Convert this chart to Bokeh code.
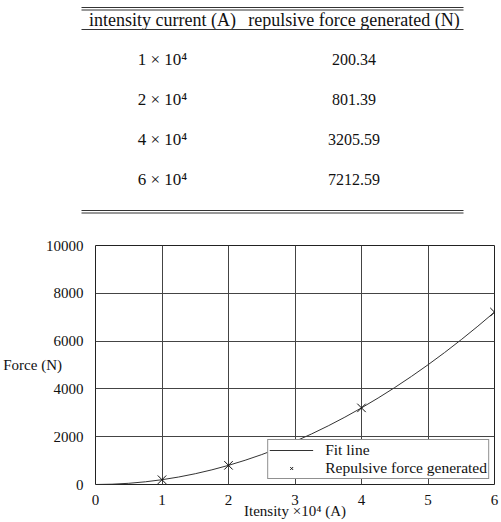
from bokeh.plotting import figure
from bokeh.layouts import column
from bokeh.models import Range1d, FixedTicker, Legend, LegendItem
from bokeh.core.properties import value
from bokeh.embed import file_html
from bokeh.resources import INLINE

# ---- data ----
currents = [1, 2, 4, 6]                     # x 10^4 A
forces = [200.34, 801.39, 3205.59, 7212.59]  # N
fit_x = [0, 0.25, 0.5, 0.75, 1, 1.25, 1.5, 1.75, 2, 2.25, 2.5, 2.75, 3,
         3.25, 3.5, 3.75, 4, 4.25, 4.5, 4.75, 5, 5.25, 5.5, 5.75, 6]
fit_y = [0, 12.5, 50.1, 112.7, 200.3, 313.0, 450.8, 613.6, 801.4, 1014.3,
         1252.2, 1515.2, 1803.2, 2116.3, 2454.3, 2817.5, 3205.6, 3618.9,
         4057.2, 4520.5, 5008.9, 5522.3, 6060.8, 6624.4, 7212.6]
header = ["intensity current (A)", "repulsive force generated (N)"]
x_ticks = [0, 1, 2, 3, 4, 5, 6]
y_ticks = [0, 2000, 4000, 6000, 8000, 10000]

FONT = "Liberation Serif"
FS = "15px"

# ---- table figure ----
t = figure(width=501, height=225, x_range=Range1d(0, 501), y_range=Range1d(225, 0),
           output_backend="svg", toolbar_location=None,
           min_border=0, min_border_left=0, min_border_right=0,
           min_border_top=0, min_border_bottom=0)
t.axis.visible = False
t.grid.visible = False
t.outline_line_color = None

# ---- chart figure ----
p = figure(width=501, height=297, x_range=Range1d(0, 6), y_range=Range1d(0, 10000),
           output_backend="svg", toolbar_location=None,
           min_border_left=92, min_border_right=7, min_border_top=20, min_border_bottom=38)

try:
    t.frame_align = False
    p.frame_align = False
except AttributeError:
    t.x_range = Range1d(92, 494)
    t.min_border_left = 92
    t.min_border_right = 7

col_x = [162, 353.5]
t.text(x=col_x, y=[19, 19], text=header, text_font=value(FONT), text_font_size=value("18px"),
       text_align="center", text_baseline="middle", text_color="#111")
row_y = [59, 99, 139, 179]
left_col = ["%d × 10⁴" % c for c in currents]
right_col = ["%.2f" % f for f in forces]
t.text(x=[col_x[0]] * 4, y=row_y, text=left_col, text_font=value(FONT), text_font_size=value("17px"),
       text_align="center", text_baseline="middle", text_color="#111")
t.text(x=[col_x[1]] * 4, y=row_y, text=right_col, text_font=value(FONT), text_font_size=value("16px"),
       text_align="center", text_baseline="middle", text_color="#111")
rule_y = [7, 9.5, 29, 210, 212.5]
t.segment(x0=[81] * 5, x1=[463] * 5, y0=rule_y, y1=rule_y, line_color="#333", line_width=1)

p.outline_line_color = "#222"
p.outline_line_width = 1
p.xaxis.ticker = FixedTicker(ticks=x_ticks)
p.yaxis.ticker = FixedTicker(ticks=y_ticks)
for ax in (p.xaxis, p.yaxis):
    ax.major_tick_line_color = None
    ax.minor_tick_line_color = None
    ax.axis_line_color = None
    ax.major_label_text_font = FONT
    ax.major_label_text_font_size = FS
    ax.major_label_text_color = "#111"
    ax.major_label_standoff = 6
    ax.axis_label_text_font = FONT
    ax.axis_label_text_font_size = FS
    ax.axis_label_text_font_style = "normal"
    ax.axis_label_text_color = "#111"
p.xaxis.major_label_standoff = 4
p.xaxis.axis_label = "Itensity ×10⁴ (A)"
p.xaxis.axis_label_standoff = -5
p.yaxis.axis_label = "Force (N)"
p.yaxis.axis_label_orientation = "horizontal"
p.yaxis.axis_label_standoff = -19
p.grid.grid_line_color = "#444"
p.grid.grid_line_alpha = 1
p.grid.grid_line_width = 1

fit = p.line(fit_x, fit_y, line_color="#333", line_width=1)
pts = p.scatter(currents, forces, marker="x", size=12, line_color="#111", line_width=1)

legend = Legend(items=[LegendItem(label="Fit line", renderers=[fit]),
                       LegendItem(label="Repulsive force generated", renderers=[pts])],
                location="bottom_right")
legend.label_text_font = FONT
legend.label_text_font_size = "15.5px"
legend.label_text_color = "#111"
legend.label_height = 10
legend.label_standoff = 12
legend.glyph_height = 10
legend.glyph_width = 44
legend.spacing = 0
legend.padding = 1
legend.margin = 5
legend.border_line_color = "#222"
legend.border_line_width = 1
legend.background_fill_alpha = 1
p.add_layout(legend)

layout = column(t, p, spacing=0)
open("out.html", "w").write(file_html(layout, INLINE))
